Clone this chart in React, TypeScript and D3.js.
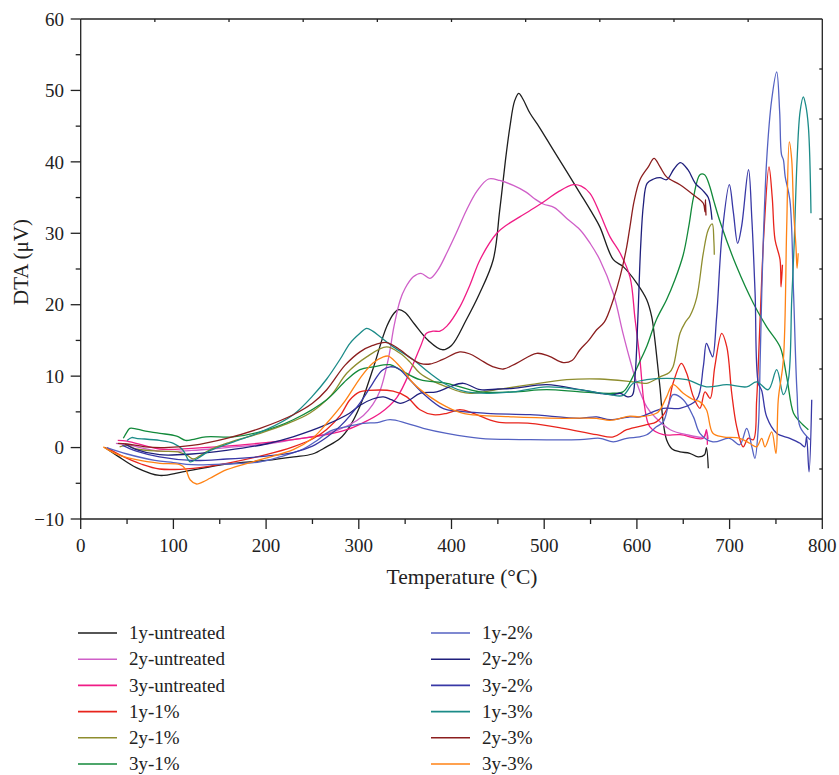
import React from "react";
import * as d3 from "d3";

type Pt = [number, number];

const seriesNames = [
  "1y-untreated", "2y-untreated", "3y-untreated", "1y-1%", "2y-1%", "3y-1%",
  "1y-2%", "2y-2%", "3y-2%", "1y-3%", "2y-3%", "3y-3%",
];
const seriesColors = [
  "#1e1e1e", "#cf5fc8", "#f01c86", "#e8241c", "#8e8d2e", "#12893a",
  "#5462c2", "#1f1f7c", "#3838a6", "#1b8b88", "#8b1e1e", "#ff8214",
];

const s1yUntreated: Pt[] = [[26,0],[40,-1.2],[60,-2.8],[85,-3.9],[110,-3.4],[157,-2.3],[200,-1.8],[230,-1.3],[250,-0.9],[265,0.1],[280,1.3],[290,2.9],[301,5.7],[315,10.9],[330,16.9],[338,18.8],[343,19.3],[350,18.9],[360,17.3],[375,15],[390,13.7],[400,14.3],[416,17.9],[430,21.5],[445,26.3],[452,33.2],[458,40],[463,44.9],[468,48.5],[472.5,49.6],[477,48.8],[484.7,46.8],[495,44.8],[509.6,41.7],[525,38.5],[538.7,35.6],[550,33.2],[560,30.9],[574.6,26.3],[585.5,25.3],[600,23],[610.6,20.7],[616,18.3],[619,15.5],[622,12],[625,8.3],[628,4],[632,1.1],[638,-0.2],[646.5,-0.6],[657,-0.8],[666,-1.3],[673,-1.0],[675,0],[677,-2.9]];
const s2yUntreated: Pt[] = [[38,0.6],[50,0.4],[85,-0.5],[120,-0.4],[157,0],[200,0.5],[229,1.1],[265,1.9],[290,3.2],[305,4.5],[315,6],[323,8],[332,12.5],[338,17],[344.5,20.6],[350,22.3],[358.8,23.9],[367,24.4],[376.8,23.7],[385,24.8],[394.8,27.2],[405,30],[416.4,33.3],[428,36],[440,37.6],[452,37.4],[466.7,36.7],[480,35.8],[490,34.8],[499,34.1],[511,33.6],[525,32],[538.6,30.5],[550,28.5],[560,26.3],[574.5,21.6],[585,16],[592.5,12.3],[600,9],[610.6,5.7],[620,4.2],[636,2.5],[653.7,1.8],[672,1.5],[675,2.2],[677,1.2]];
const s3yUntreated: Pt[] = [[40,1.0],[50,0.9],[85,-0.2],[120,-0.1],[157,0.2],[200,0.7],[229,1.1],[265,1.8],[287,2.5],[305,3.5],[323,4.8],[341,7],[358,11.5],[367,14.3],[373,16],[380,16.3],[387.6,16.3],[395,17],[409,19.7],[420,22.8],[430.8,26.3],[448.8,30],[460,31.2],[473.6,32.3],[490,33.6],[502.7,34.7],[515,35.8],[531.4,36.8],[540,36.6],[549.4,35.6],[560,32.8],[571,29.5],[582,27.2],[592.5,23.9],[598,18],[603.3,12.3],[608,6],[614,2.9],[628.5,1.8],[646.5,1.8],[671.6,1.3],[675,2.5],[676,0.4]];
const s1y1: Pt[] = [[28,0],[45,-1.2],[65,-2.3],[85,-3.0],[121.5,-2.9],[157.5,-2.2],[200,-1],[229,0.1],[250,1.2],[265,2.5],[280,4.5],[290.5,6.7],[301,7.8],[310,8],[337,7.9],[351.7,7.1],[366,5.3],[380.4,4.6],[395,4.8],[409,5.3],[423.5,4.8],[448.8,3.6],[484.7,3.4],[520.6,2.7],[556.6,1.8],[574.5,1.5],[589,2.5],[610.6,3.2],[621,3.6],[632,5.3],[639,9],[648,11.8],[653.7,10.4],[661,7.1],[668,5.5],[673.5,7.8],[679,6.9],[684,11.3],[691.5,16],[697,14.1],[702.3,7.6],[707.7,2.9],[714.7,0.1],[720,1.3],[725.6,1.1],[729.2,6.7],[733,18.3],[737,30],[742.5,39.3],[746,35],[749,29.1],[754.4,26.3],[755.5,22.5],[757,25.6]];
const s2y1: Pt[] = [[42,0.1],[50,0.3],[60,-0.2],[85,-0.5],[105,-0.6],[115,-1.1],[121.5,-1.6],[128,-1.2],[139.5,-0.3],[160,0.7],[193.5,2],[220,3.2],[247,4.8],[270,7.3],[287,10.4],[308.5,12.7],[330,14.1],[344.5,13.2],[355,12],[366,10.4],[380,9.3],[394.8,8.5],[410,7.8],[420,7.6],[435,7.8],[448.8,8.1],[484.7,8.8],[524.3,9.5],[560,9.6],[596,9.2],[610.6,9.0],[625,9.9],[635,10.5],[639,11.3],[646.5,16],[652,17.5],[657.5,18.5],[664.5,21],[671.6,27.2],[677,30.5],[681.3,31.3],[683,29],[683.5,27]];
const s3y1: Pt[] = [[46,1.3],[50,2.2],[53,2.7],[70,2.3],[85.5,2.0],[103.5,1.6],[113,1.0],[120,1.1],[135,1.5],[164.6,1.5],[193.4,2.2],[229.3,3.9],[265.4,6.7],[287,9.5],[301.3,10.9],[315.5,11.3],[333.7,11.6],[344.5,10.9],[366,9.5],[394.8,9.0],[431,7.8],[466.7,7.8],[502.7,8.1],[538.6,7.8],[571,7.6],[585,7.8],[592,9],[603,12],[611,14.3],[621,17.9],[632,20.7],[641,23.5],[650,27],[656,31],[661,35],[668,38.2],[673,38.2],[678,36.8],[683,34.5],[690,31.5],[707.7,25.3],[725.6,20.2],[740,16.9],[754.4,14.1],[761.6,9.9],[769,4.8],[776,3.6],[785,2.5]];
const s1y2: Pt[] = [[28,0],[50,-0.9],[80,-1.8],[100,-2.1],[120,-2.4],[157.5,-2.3],[193.5,-2.0],[215,-1.3],[240,-0.2],[255,1.0],[269,2.3],[290,3],[304.8,3.4],[320,3.5],[333.7,3.9],[351.7,3.4],[369.6,2.7],[394.8,2.0],[431,1.3],[484.7,1.1],[538.6,1.1],[560,1.3],[574.5,0.8],[589,1.3],[603,1.5],[610.6,1.8],[621,2.9],[628.5,3.6],[634,5.9],[639,7.4],[650,6.7],[661,4.3],[668,2.0],[682,0.8],[700,1.3],[711,0.4],[718.4,2.7],[724,0.1],[727.3,-1.5],[731,2.9],[733,12.3],[735.7,26.3],[740,40.3],[745.4,48.7],[750.8,52.6],[754,47],[756,41],[758,40.3],[760,37.9],[765,34.7],[769,21.6],[772.8,7.6],[776,2.9],[786.8,1.1]];
const s2y2: Pt[] = [[48,0.5],[60,-0.3],[85,-1.0],[120,-0.9],[157,-0.4],[200,0.5],[229,1.5],[265,3.2],[290,4.8],[301,5.9],[315,6.8],[326.5,7.1],[335,6.7],[344.5,6.2],[355,6.7],[366,7.6],[384,7.8],[398,8.5],[412.7,9.0],[431,8.1],[450,8.2],[466.7,8.3],[502.7,8.8],[538.6,8.1],[560,7.6],[574.5,7.4],[582,7.6],[590,7.1],[595,7.3],[598,10],[601,18],[604,28],[607,34],[611,37],[618,37.6],[625,37.8],[632,37.5],[640,39],[647,39.9],[655,38.9],[663,37],[671,36],[677,35],[681,31.9]];
const s3y2: Pt[] = [[45,0.3],[60,-0.5],[85,-1.3],[120,-1.8],[157.5,-1.6],[200,-1.2],[229,-0.7],[250,0.2],[265,1.4],[280,3],[301,6.2],[315,9],[325,10.8],[333.7,11.3],[342,11.1],[355,9.5],[370,7.5],[387.6,5.7],[394.8,5.3],[438,4.8],[484.7,4.6],[538.6,4.1],[556.6,4.3],[571,3.9],[592.5,4.3],[603,4.3],[628.5,5.5],[646.5,5.5],[664.5,6.7],[671.6,11.3],[675,14.6],[679,13.4],[681.7,12.7],[686,18.3],[692,30],[699.7,36.8],[704,33],[708.7,28.6],[713,31],[720.4,38.9],[724,32],[727.5,21.6],[731,9],[734.6,8],[740,4.3],[750.8,2.0],[765,1.3],[776,0.6],[781,0.1],[783,1.5],[785.7,-3.4],[788.6,6.7]];
const s1y3: Pt[] = [[50,1.0],[55,1.4],[60,1.3],[85,1.0],[100,0.6],[110,-0.3],[118,-2.0],[125,-1.6],[140,-0.4],[165,0.8],[200,2.5],[229.3,4.6],[250,7.2],[265.4,9.6],[280,12.4],[290.5,14.6],[301.3,16],[308.5,16.7],[315,16.3],[323,15.5],[337.2,14.1],[358.8,12.3],[376.8,10.4],[394.8,8.8],[416.4,7.8],[440,7.6],[466.7,7.8],[502.7,8.5],[538.6,8.1],[571,7.4],[585,7.3],[596,9.0],[610.6,9.5],[632,9.7],[653.7,9.5],[675,8.5],[697,8.8],[718.4,8.5],[729.2,9.2],[741.7,8.1],[750.8,10.9],[758,7.4],[763.4,9.5],[767,20.7],[769.5,28],[772.8,40.3],[776,47],[779.5,49.1],[782,48],[785,44.9],[787.8,32.8]];
const s2y3: Pt[] = [[40,0.6],[50,0.5],[70,0.1],[90,0],[120,0.3],[157.5,1.3],[193.5,2.7],[229.3,4.6],[250,6.2],[265.4,8.1],[285,11.5],[301.3,13.4],[315,14.3],[330,14.7],[344.5,13.7],[356,12.5],[366,11.8],[376.8,11.7],[390,12.3],[409,13.4],[420,13.1],[431,12.3],[445,11.3],[456,11.0],[470,11.8],[492,13.2],[505,12.8],[520.6,11.9],[530,12.2],[538.6,13.7],[548,15],[556.6,16.5],[565,17.6],[574.5,20.7],[582,24],[589,28.1],[592.5,30.9],[597,34.5],[603.3,37.5],[612.3,39.3],[618.5,40.5],[625,39.3],[632,37.9],[646.5,36.8],[660.8,35.4],[671.6,34.2],[673.5,33.0],[674,34.7],[674.5,32.5]];
const s3y3: Pt[] = [[24.4,0.1],[40,-1],[60,-1.7],[85.5,-2.2],[107,-2.4],[113,-3],[118,-4.5],[125,-5.1],[132,-4.8],[139.5,-4.3],[157.5,-3.1],[193.5,-1.7],[229.3,-0.3],[250,1.3],[265.4,3.4],[285,6.5],[301.3,9.7],[315,11.8],[326.5,12.7],[332,12.8],[337.2,12.3],[348,10.8],[358.8,9.0],[376.8,7.1],[394.8,5.7],[412.7,4.8],[466.7,4.3],[520.6,4.1],[556.6,4.1],[571,3.8],[592.5,4.4],[603,4.3],[621,4.8],[625,5.3],[632,7.1],[639,8.8],[650,7.6],[661,6.7],[668,6.4],[675,5.3],[682,2.0],[692.8,1.5],[711,1.3],[721.7,0.6],[729.2,0.1],[734.6,1.3],[738.2,0.1],[745.4,2.2],[750,-0.8],[752.5,6.7],[758,12.3],[761.6,30.9],[764.4,42.8],[767,40.3],[769,33.3],[771.6,28.1],[772.8,25.1],[774,27.2]];

const seriesData: Pt[][] = [s1yUntreated, s2yUntreated, s3yUntreated, s1y1, s2y1, s3y1, s1y2, s2y2, s3y2, s1y3, s2y3, s3y3];

const xTicks = [0, 100, 200, 300, 400, 500, 600, 700, 800];
const yTicks = [-10, 0, 10, 20, 30, 40, 50, 60];

const W = 839, H = 775;
const L = 80.7, R = 822.3, T = 19, B = 519;
const FONT = "'Liberation Serif', 'Times New Roman', serif";

export default function App() {
  const x = d3.scaleLinear().domain([0, 800]).range([L, R]);
  const y = d3.scaleLinear().domain([-10, 60]).range([B, T]);
  const line = d3.line<Pt>().x(d => x(d[0])).y(d => y(d[1])).curve(d3.curveCatmullRom.alpha(0.5));
  const xMinor = d3.range(50, 800, 100);
  const yMinor = d3.range(-5, 60, 10);
  const topTicks = d3.range(1, 10).map(i => L + (R - L) * i / 10);
  const rightTicks = d3.range(1, 10).map(i => T + (B - T) * i / 10);
  const legendRowY = (i: number) => 633 + i * 26.2;

  return (
    <svg width={W} height={H} style={{ position: "absolute", left: 0, top: 0, background: "#fff" }} fontFamily={FONT}>
      <rect x={0} y={0} width={W} height={H} fill="#fff" />
      {seriesData.map((d, i) => (
        <path key={i} d={line(d) || ""} fill="none" stroke={seriesColors[i]} strokeWidth={1.3} strokeLinejoin="round" />
      ))}
      <g stroke="#222" strokeWidth={1.3} fill="none">
        <line x1={L} x2={R} y1={T} y2={T} />
        <line x1={R} x2={R} y1={T} y2={B} />
        <line x1={L} x2={R} y1={B} y2={B} />
        <line x1={L} x2={L} y1={T} y2={B} />
        {topTicks.map((t, i) => <line key={"tt" + i} x1={t} x2={t} y1={T} y2={T + 3} />)}
        {rightTicks.map((t, i) => <line key={"rt" + i} x1={R - 3} x2={R} y1={t} y2={t} />)}
        {xTicks.map(t => <line key={"xt" + t} x1={x(t)} x2={x(t)} y1={B} y2={B + 10} />)}
        {xMinor.map(t => <line key={"xm" + t} x1={x(t)} x2={x(t)} y1={B} y2={B + 5} />)}
        {yTicks.map(t => <line key={"yt" + t} x1={L - 10} x2={L} y1={y(t)} y2={y(t)} />)}
        {yMinor.map(t => <line key={"ym" + t} x1={L - 5} x2={L} y1={y(t)} y2={y(t)} />)}
      </g>
      <g fontSize={19} fill="#222">
        {xTicks.map(t => (
          <text key={"xl" + t} x={x(t)} y={552} textAnchor="middle">{t}</text>
        ))}
        {yTicks.map(t => (
          <text key={"yl" + t} x={64} y={y(t)} dy="0.35em" textAnchor="end">{t < 0 ? "\u2212" + Math.abs(t) : t}</text>
        ))}
      </g>
      <text x={462} y={584} textAnchor="middle" fontSize={21.5} fill="#222">Temperature (°C)</text>
      <text transform={`translate(28,262) rotate(-90)`} textAnchor="middle" fontSize={21} fill="#222">DTA (μV)</text>
      <g fontSize={19} fill="#222">
        {seriesNames.map((n, i) => {
          const col = i < 6 ? 0 : 1;
          const row = i % 6;
          const lx = col === 0 ? 78 : 431;
          const ly = legendRowY(row);
          return (
            <g key={n}>
              <line x1={lx} x2={lx + 39} y1={ly} y2={ly} stroke={seriesColors[i]} strokeWidth={1.6} />
              <text x={lx + 51} y={ly} dy="0.33em">{n}</text>
            </g>
          );
        })}
      </g>
    </svg>
  );
}
